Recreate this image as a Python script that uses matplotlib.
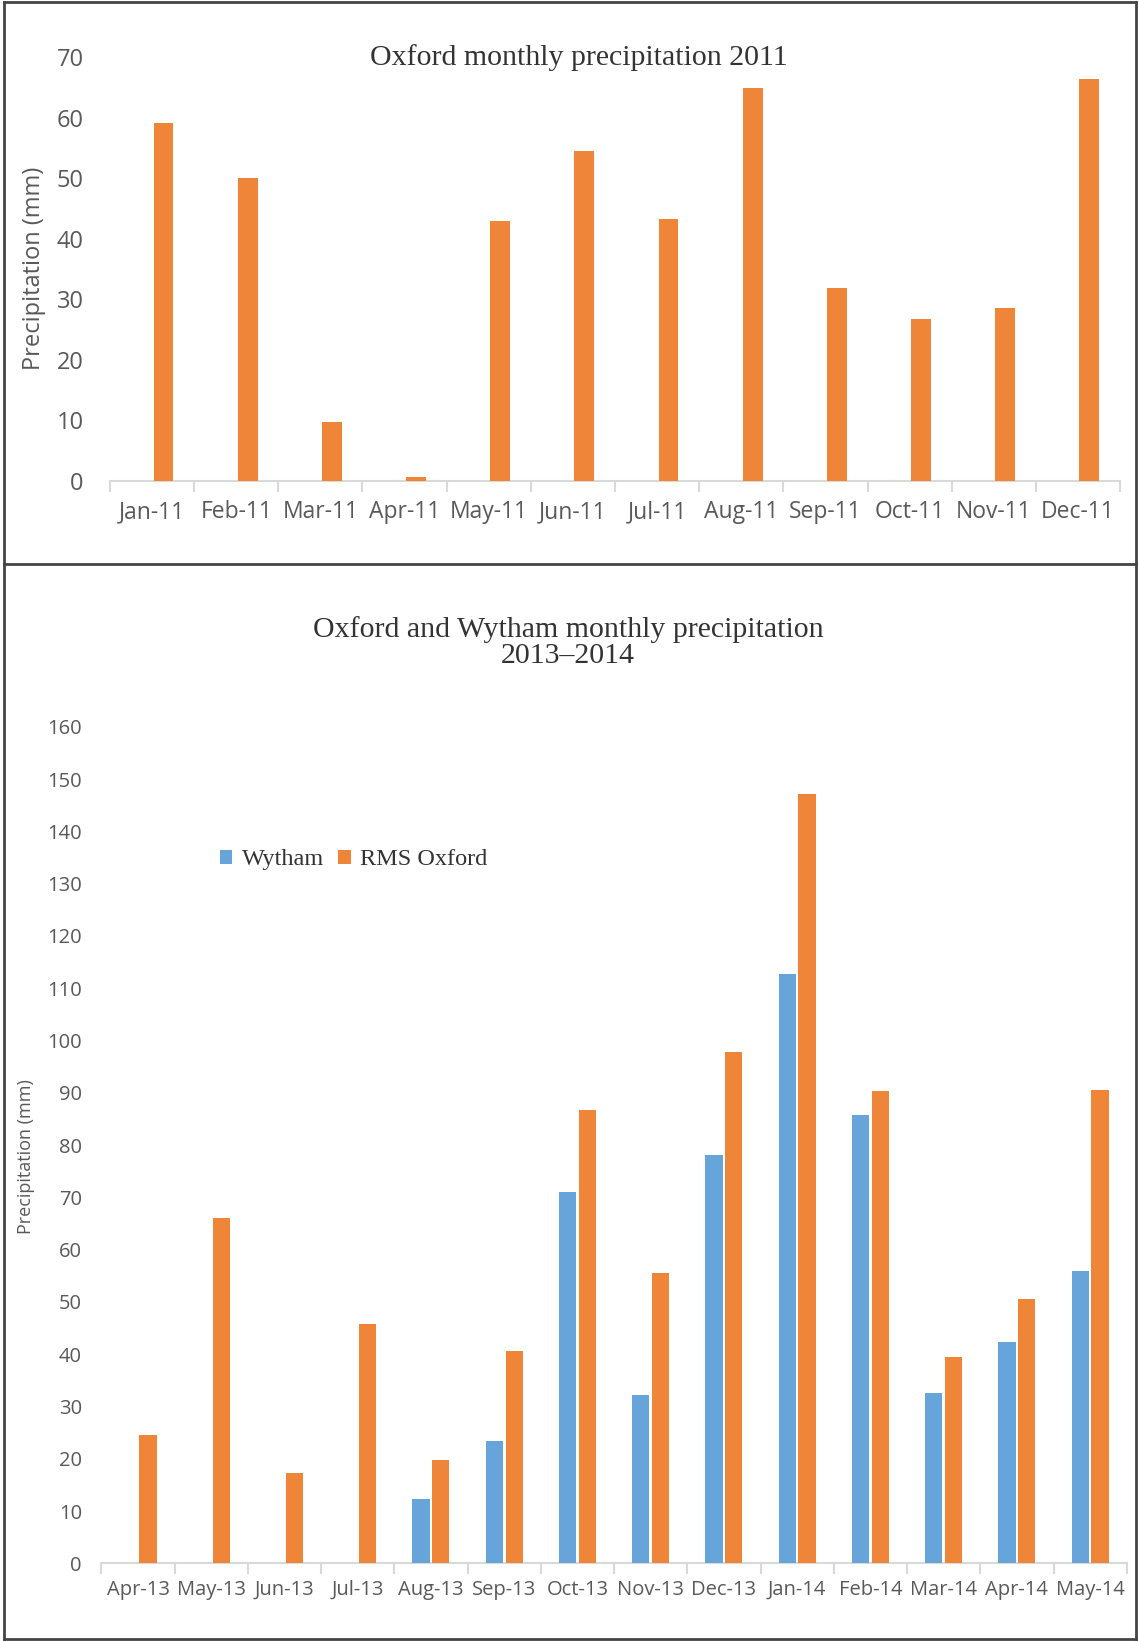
import numpy as np
import matplotlib
matplotlib.use("Agg")
import matplotlib.pyplot as plt
from matplotlib.lines import Line2D

# --- data -------------------------------------------------------------
months_2011 = ["Jan-11", "Feb-11", "Mar-11", "Apr-11", "May-11", "Jun-11",
               "Jul-11", "Aug-11", "Sep-11", "Oct-11", "Nov-11", "Dec-11"]
oxford_2011 = [59.1, 50.1, 9.8, 0.7, 42.9, 54.5, 43.3, 64.8, 31.9, 26.7, 28.6, 66.3]

months_1314 = ["Apr-13", "May-13", "Jun-13", "Jul-13", "Aug-13", "Sep-13", "Oct-13",
               "Nov-13", "Dec-13", "Jan-14", "Feb-14", "Mar-14", "Apr-14", "May-14"]
wytham = [np.nan, np.nan, np.nan, np.nan, 12.3, 23.5, 71.1,
          32.3, 78.1, 112.7, 85.7, 32.5, 42.4, 55.9]
rms_oxford = [24.6, 66.0, 17.2, 45.8, 19.8, 40.7, 86.8,
              55.5, 97.8, 147.2, 90.3, 39.5, 50.5, 90.5]

# --- style ------------------------------------------------------------
ORANGE = "#EE8539"
BLUE = "#66A4D9"
GRID = "#D9D9D9"
TICK_TXT = "#595959"
SERIF_TXT = "#333333"
SANS = "Open Sans"
SERIF = "Liberation Serif"

W_PX, H_PX, DPI = 1139, 1641, 100
fig = plt.figure(figsize=(W_PX / DPI, H_PX / DPI), dpi=DPI)


def px_axes(x0, x1, y_top, y_bot):
    # axes rectangle given in pixel coords (origin top-left)
    return fig.add_axes([x0 / W_PX, 1 - y_bot / H_PX, (x1 - x0) / W_PX, (y_bot - y_top) / H_PX])


def style_axis(ax, labels, ymax, ystep, xfs, yfs, xpad, ypad):
    n = len(labels)
    ax.set_xlim(-0.5, n - 0.5)
    ax.set_ylim(0, ymax)
    ax.set_xticks(np.arange(n))
    ax.set_xticklabels(labels, fontsize=xfs, color=TICK_TXT, family=SANS)
    ax.set_xticks(np.arange(n + 1) - 0.5, minor=True)
    ax.tick_params(axis="x", which="major", length=0, pad=xpad)
    ax.tick_params(axis="x", which="minor", length=8, width=1.5, color=GRID, direction="out")
    ax.set_yticks(np.arange(0, ymax + 1, ystep))
    ax.tick_params(axis="y", length=0, pad=ypad, labelsize=yfs, labelcolor=TICK_TXT)
    for lbl in ax.get_yticklabels():
        lbl.set_family(SANS)
    for side in ("top", "right", "left"):
        ax.spines[side].set_visible(False)
    ax.spines["bottom"].set_color(GRID)
    ax.spines["bottom"].set_linewidth(1.5)


BAR_W = 0.235
OFF = 0.135

# --- top chart: Oxford 2011 --------------------------------------------
ax1 = px_axes(110, 1120, 57, 481)
x1 = np.arange(len(months_2011))
ax1.bar(x1 + OFF, oxford_2011, width=BAR_W, color=ORANGE, zorder=3)
style_axis(ax1, months_2011, 70, 10, 16.5, 17, 14, 19)

fig.text(579 / W_PX, 1 - 58 / H_PX, "Oxford monthly precipitation 2011",
         ha="center", va="center", fontsize=21.5, family=SERIF, color=SERIF_TXT)
fig.text(34 / W_PX, 1 - 268 / H_PX, "Precipitation (mm)", rotation=90,
         ha="center", va="center", fontsize=17, family=SANS, color=TICK_TXT)

# --- bottom chart: Oxford and Wytham 2013-2014 ----------------------------
ax2 = px_axes(101.4, 1126.8, 726.8, 1563.4)
x2 = np.arange(len(months_1314))
b_w = ax2.bar(x2 - OFF, wytham, width=BAR_W, color=BLUE, zorder=3, label="Wytham")
b_o = ax2.bar(x2 + OFF, rms_oxford, width=BAR_W, color=ORANGE, zorder=3, label="RMS Oxford")
style_axis(ax2, months_1314, 160, 10, 14.5, 14.5, 12, 14)

ax2.legend(handles=[b_w, b_o], ncol=2, frameon=False, loc="center",
           bbox_to_anchor=(0.246, 0.841), prop={"family": SERIF, "size": 17.5},
           labelcolor=SERIF_TXT, handlelength=0.5, handleheight=0.5,
           handletextpad=0.4, columnspacing=0.6)

fig.text(568 / W_PX, 1 - 643 / H_PX, "Oxford and Wytham monthly precipitation\n2013\u20132014",
         ha="center", va="center", fontsize=21.5, family=SERIF, color=SERIF_TXT,
         linespacing=1.0)
fig.text(26 / W_PX, 1 - 1157 / H_PX, "Precipitation (mm)", rotation=90,
         ha="center", va="center", fontsize=13, family=SANS, color=TICK_TXT)

# --- panel frames -------------------------------------------------------
FRAME = "#444444"
xl, xr = 4 / W_PX, 1136 / W_PX
yt, yb, ym = 1 - 2 / H_PX, 1 - 1639 / H_PX, 1 - 564 / H_PX
for xs, ys in [((xl, xr), (yt, yt)), ((xl, xr), (yb, yb)), ((xl, xr), (ym, ym)),
               ((xl, xl), (yb, yt)), ((xr, xr), (yb, yt))]:
    fig.add_artist(Line2D(xs, ys, color=FRAME, linewidth=2, transform=fig.transFigure))

fig.savefig("out.png", dpi=DPI)
